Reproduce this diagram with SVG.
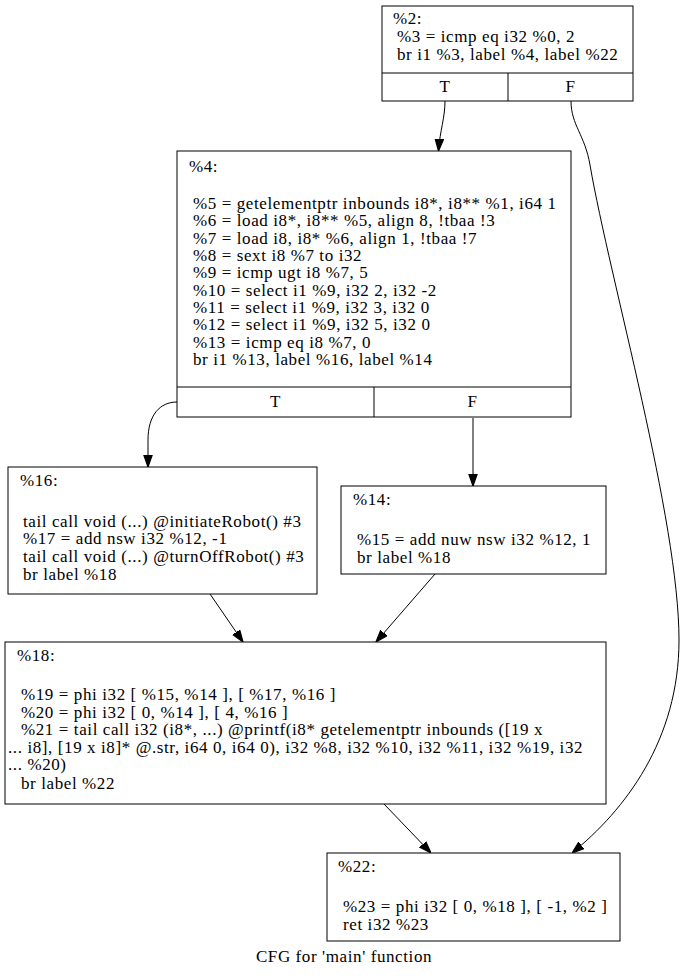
<svg xmlns="http://www.w3.org/2000/svg" width="689" height="977" viewBox="0 0 689 977">
<style>
text{font-family:"Liberation Serif","Times New Roman",serif;font-size:17px;fill:#000;letter-spacing:0.6px}
.box{fill:#fff;stroke:#000;stroke-width:1}
.edge{fill:none;stroke:#000;stroke-width:1}
.mid{text-anchor:middle}
</style>
<defs>
<marker id="arr" markerWidth="12" markerHeight="10" refX="10" refY="3.5" orient="auto" markerUnits="userSpaceOnUse" viewBox="0 0 10 7">
<polygon points="0,0 10,3.5 0,7" fill="#000" stroke="#000"/>
</marker>
</defs>
<rect width="689" height="977" fill="#fff"/>
<g id="edges">
<path class="edge" d="M445,101 C445,118 440,130 438.5,151" marker-end="url(#arr)"/>
<path class="edge" d="M571,101 C571,125 585,135 590,165 C610,280 679,520 679,640 C679,740 625,810 572,853" marker-end="url(#arr)"/>
<path class="edge" d="M177,402 C160,402 148,415 148,440 L148,467" marker-end="url(#arr)"/>
<path class="edge" d="M473,418 L473,486" marker-end="url(#arr)"/>
<path class="edge" d="M210,594 L243,642" marker-end="url(#arr)"/>
<path class="edge" d="M435,574 L376,642" marker-end="url(#arr)"/>
<path class="edge" d="M384,804 L431,853" marker-end="url(#arr)"/>
</g>
<g id="node2">
<rect class="box" x="382" y="6" width="251" height="95"/>
<line class="edge" x1="382" y1="73" x2="633" y2="73"/>
<line class="edge" x1="508" y1="73" x2="508" y2="101"/>
<text x="393" y="24">%2:</text>
<text x="397" y="42">%3 = icmp eq i32 %0, 2</text>
<text x="397" y="60">br i1 %3, label %4, label %22</text>
<text class="mid" x="445" y="92">T</text>
<text class="mid" x="570.5" y="92">F</text>
</g>
<g id="node4">
<rect class="box" x="177" y="151" width="394" height="266"/>
<line class="edge" x1="177" y1="387" x2="571" y2="387"/>
<line class="edge" x1="374" y1="387" x2="374" y2="417"/>
<text x="189" y="172">%4:</text>
<text x="193" y="209">%5 = getelementptr inbounds i8*, i8** %1, i64 1</text>
<text x="193" y="226.3">%6 = load i8*, i8** %5, align 8, !tbaa !3</text>
<text x="193" y="243.7">%7 = load i8, i8* %6, align 1, !tbaa !7</text>
<text x="193" y="261">%8 = sext i8 %7 to i32</text>
<text x="193" y="278.4">%9 = icmp ugt i8 %7, 5</text>
<text x="193" y="295.7">%10 = select i1 %9, i32 2, i32 -2</text>
<text x="193" y="313.1">%11 = select i1 %9, i32 3, i32 0</text>
<text x="193" y="330.4">%12 = select i1 %9, i32 5, i32 0</text>
<text x="193" y="347.8">%13 = icmp eq i8 %7, 0</text>
<text x="193" y="365.1">br i1 %13, label %16, label %14</text>
<text class="mid" x="275.5" y="407">T</text>
<text class="mid" x="472.5" y="407">F</text>
</g>
<g id="node16">
<rect class="box" x="8" y="467" width="309" height="127"/>
<text x="20" y="486">%16:</text>
<text x="23" y="526.5">tail call void (...) @initiateRobot() #3</text>
<text x="23" y="544.3">%17 = add nsw i32 %12, -1</text>
<text x="23" y="562.1">tail call void (...) @turnOffRobot() #3</text>
<text x="23" y="580">br label %18</text>
</g>
<g id="node14">
<rect class="box" x="341" y="486" width="265" height="88"/>
<text x="353" y="505">%14:</text>
<text x="357" y="545">%15 = add nuw nsw i32 %12, 1</text>
<text x="357" y="563">br label %18</text>
</g>
<g id="node18">
<rect class="box" x="5" y="642" width="601" height="162"/>
<text x="17" y="661">%18:</text>
<text x="21" y="700">%19 = phi i32 [ %15, %14 ], [ %17, %16 ]</text>
<text x="21" y="717.5">%20 = phi i32 [ 0, %14 ], [ 4, %16 ]</text>
<text x="21" y="735">%21 = tail call i32 (i8*, ...) @printf(i8* getelementptr inbounds ([19 x</text>
<text x="8" y="752.5">... i8], [19 x i8]* @.str, i64 0, i64 0), i32 %8, i32 %10, i32 %11, i32 %19, i32</text>
<text x="8" y="770">... %20)</text>
<text x="21" y="789">br label %22</text>
</g>
<g id="node22">
<rect class="box" x="327" y="853" width="293" height="88"/>
<text x="338" y="872">%22:</text>
<text x="343" y="912">%23 = phi i32 [ 0, %18 ], [ -1, %2 ]</text>
<text x="343" y="930">ret i32 %23</text>
</g>
<text class="mid" x="344" y="962">CFG for 'main' function</text>
</svg>
